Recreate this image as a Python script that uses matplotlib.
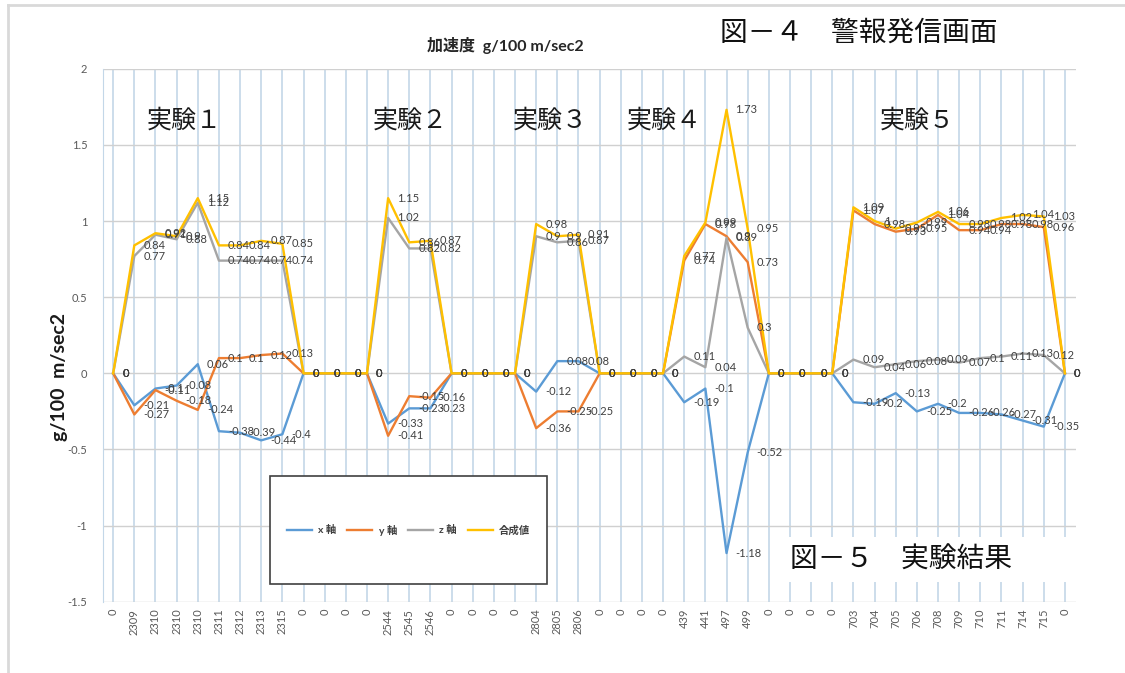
import matplotlib
matplotlib.use('Agg')
import matplotlib.pyplot as plt
from matplotlib.patches import Rectangle
from matplotlib.lines import Line2D

plt.rcParams['font.family'] = ['Lato', 'Noto Sans CJK JP', 'DejaVu Sans']

categories = ["0", "2309", "2310", "2310", "2310", "2311", "2312", "2313", "2315",
              "0", "0", "0", "0", "2544", "2545", "2546",
              "0", "0", "0", "0", "2804", "2805", "2806",
              "0", "0", "0", "0", "439", "441", "497", "499",
              "0", "0", "0", "0", "703", "704", "705", "706", "708", "709",
              "710", "711", "714", "715", "0"]

x_axis = [0, -0.21, -0.1, -0.08, 0.06, -0.38, -0.39, -0.44, -0.4,
          0, 0, 0, 0, -0.33, -0.23, -0.23,
          0, 0, 0, 0, -0.12, 0.08, 0.08,
          0, 0, 0, 0, -0.19, -0.1, -1.18, -0.52,
          0, 0, 0, 0, -0.19, -0.2, -0.13, -0.25, -0.2, -0.26,
          -0.26, -0.27, -0.31, -0.35, 0]

y_axis = [0, -0.27, -0.11, -0.18, -0.24, 0.1, 0.1, 0.12, 0.13,
          0, 0, 0, 0, -0.41, -0.15, -0.16,
          0, 0, 0, 0, -0.36, -0.25, -0.25,
          0, 0, 0, 0, 0.74, 0.98, 0.9, 0.73,
          0, 0, 0, 0, 1.07, 0.98, 0.93, 0.95, 1.04, 0.94,
          0.94, 0.98, 0.98, 0.96, 0]

z_axis = [0, 0.77, 0.91, 0.88, 1.12, 0.74, 0.74, 0.74, 0.74,
          0, 0, 0, 0, 1.02, 0.82, 0.82,
          0, 0, 0, 0, 0.9, 0.86, 0.87,
          0, 0, 0, 0, 0.11, 0.04, 0.89, 0.3,
          0, 0, 0, 0, 0.09, 0.04, 0.06, 0.08, 0.09, 0.07,
          0.1, 0.11, 0.13, 0.12, 0]

combined = [0, 0.84, 0.92, 0.9, 1.15, 0.84, 0.84, 0.87, 0.85,
            0, 0, 0, 0, 1.15, 0.86, 0.87,
            0, 0, 0, 0, 0.98, 0.9, 0.91,
            0, 0, 0, 0, 0.77, 0.99, 1.73, 0.95,
            0, 0, 0, 0, 1.09, 1.0, 0.95, 0.99, 1.06, 0.98,
            0.98, 1.02, 1.04, 1.03, 0]

series_names = ['x 軸', 'y 軸', 'z 軸', '合成値']
series_colors = ['#5B9BD5', '#ED7D31', '#A5A5A5', '#FFC000']
y_ticks = [-1.5, -1, -0.5, 0, 0.5, 1, 1.5, 2]
experiment_labels = ['実験１', '実験２', '実験３', '実験４', '実験５']
experiment_label_x = [1.6, 12.25, 18.9, 24.3, 36.26]

W, H = 1125, 673
fig = plt.figure(figsize=(W / 100, H / 100), dpi=100)


def fx(px):
    return px / W


def fy(py):
    return 1 - py / H


ax = fig.add_axes([fx(102.6), fy(601.8), fx(1075.5) - fx(102.6), fy(68.7) - fy(601.8)])

pos = list(range(len(categories)))
all_series = [x_axis, y_axis, z_axis, combined]
handles = []
for vals, name, col in zip(all_series, series_names, series_colors):
    ln, = ax.plot(pos, vals, color=col, lw=1.7, label=name, zorder=3)
    handles.append(ln)

for vals in all_series:
    for i, v in enumerate(vals):
        ax.annotate(f'{v:g}', (i, v), xytext=(6.5, 0), textcoords='offset points',
                    ha='left', va='center', fontsize=8, color='#404040', zorder=6)

ax.set_xlim(-0.5, len(categories) - 0.5)
ax.set_ylim(-1.5, 2)
ax.set_yticks(y_ticks)
ax.set_yticklabels([f'{t:g}' for t in y_ticks])
ax.set_xticks(pos)
ax.set_xticklabels(categories, rotation=90)
ax.tick_params(length=0, labelsize=8, labelcolor='#595959')
ax.tick_params(axis='y', pad=11)
ax.tick_params(axis='x', pad=5)
ax.grid(axis='y', color='#d0d0d0', lw=1)
ax.grid(axis='x', color='#c3d7e8', lw=1.2)
ax.set_axisbelow(True)
for s in ax.spines.values():
    s.set_visible(False)
ax.spines['left'].set_visible(True)
ax.spines['left'].set_color('#c3d7e8')

for lab, xi in zip(experiment_labels, experiment_label_x):
    ax.text(xi, 1.66, lab, fontsize=18, ha='left', va='center',
            family=['Noto Sans CJK JP'], color='#1a1a1a', zorder=7)

# legend box
ax.add_patch(Rectangle((fx(270), fy(584)), fx(547) - fx(270), fy(476) - fy(584),
                       transform=fig.transFigure, facecolor='white', edgecolor='#404040',
                       lw=1.2, zorder=4, clip_on=False))
leg = ax.legend(handles, series_names, ncol=4, loc='center',
                bbox_to_anchor=(fx(408.5), fy(530)), bbox_transform=fig.transFigure,
                frameon=False, prop={'size': 7.5, 'weight': 'bold'},
                handlelength=2.4, handletextpad=0.6, columnspacing=1.05)
for t in leg.get_texts():
    t.set_color('#404040')

# figure caption box
ax.add_patch(Rectangle((fx(787), fy(582)), fx(1067) - fx(787), fy(537) - fy(582),
                       transform=fig.transFigure, facecolor='white', edgecolor='none',
                       zorder=4, clip_on=False))
fig.text(fx(790), fy(560), '図－５　実験結果', fontsize=20, ha='left', va='center',
         family=['Noto Sans CJK JP'], color='#111111')
fig.text(fx(720), fy(33), '図－４　警報発信画面', fontsize=20, ha='left', va='center',
         family=['Noto Sans CJK JP'], color='#111111')

fig.text(fx(505), fy(45), '加速度  g/100 m/sec2', fontsize=11.5, fontweight='bold',
         ha='center', va='center', color='#262626')
fig.text(fx(60), fy(377), 'g/100  m/sec2', fontsize=14, fontweight='bold', rotation=90,
         ha='center', va='center', color='#1a1a1a')

# chart-area border
fig.add_artist(Line2D([fx(8), 1], [fy(5), fy(5)], transform=fig.transFigure,
                      color='#d9d9d9', lw=2))
fig.add_artist(Line2D([fx(8), fx(8)], [fy(5), 0], transform=fig.transFigure,
                      color='#d9d9d9', lw=2))

fig.savefig('out.png', dpi=100)
